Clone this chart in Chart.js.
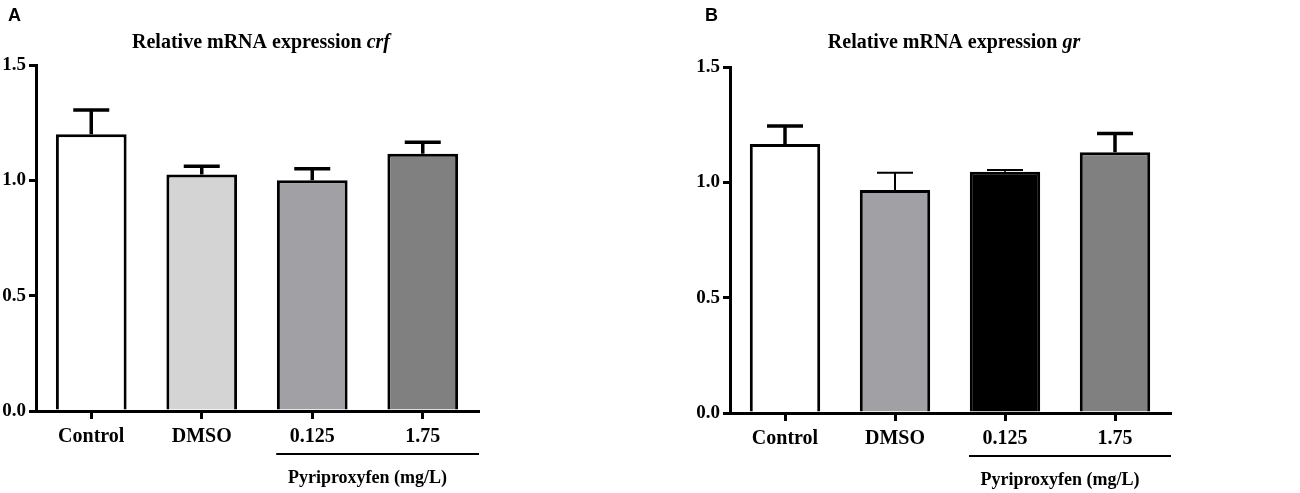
<!DOCTYPE html>
<html>
<head>
<meta charset="utf-8">
<script src="https://cdn.jsdelivr.net/npm/chart.js@4"></script>
<style>
  html, body { margin: 0; padding: 0; background: #fff; }
  #wrap { position: relative; width: 1300px; height: 493px; }
  .panel { position: absolute; top: 0; width: 650px; height: 493px; }
</style>
</head>
<body>
<div id="wrap">
  <div class="panel" style="left:0"><canvas id="cA"></canvas></div>
  <div class="panel" style="left:650px"><canvas id="cB"></canvas></div>
</div>
<script>
// ---- data ----
const categories = ['Control', 'DMSO', '0.125', '1.75'];
const crfMean = [1.20, 1.025, 1.00, 1.115];
const crfSem  = [0.105, 0.036, 0.05, 0.05];
const grMean  = [1.166, 0.967, 1.046, 1.13];
const grSem   = [0.078, 0.075, 0.007, 0.082];
const yTickValues = [0, 0.5, 1.0, 1.5];
const groupLabel = 'Pyriproxyfen (mg/L)';
const titleA = ['Relative mRNA expression ', 'crf'];
const titleB = ['Relative mRNA expression ', 'gr'];

// ---- styles ----
const crfColors = ['#ffffff', '#d4d4d4', '#a1a1a5', '#808080'];
const grColors  = ['#ffffff', '#a1a1a5', '#000000', '#808080'];
const crfErrWidth = [3.5, 3.5, 3.5, 3.5];
const grErrWidth  = [3.5, 2, 2, 3.5];

const SERIF = '"Liberation Serif", "Times New Roman", serif';

function makeDecor(cfg) {
  return {
    id: 'decor' + cfg.letter,
    afterDatasetsDraw(chart) {
      const ctx = chart.ctx;
      const y = chart.scales.y;
      const meta = chart.getDatasetMeta(0);
      meta.data.forEach((bar, i) => {
        const yt = y.getPixelForValue(cfg.mean[i]);
        const ye = y.getPixelForValue(cfg.mean[i] + cfg.sem[i]);
        ctx.save();
        ctx.strokeStyle = '#000';
        ctx.lineWidth = cfg.errWidth[i];
        ctx.beginPath();
        ctx.moveTo(bar.x, yt);
        ctx.lineTo(bar.x, ye);
        ctx.moveTo(bar.x - 18, ye);
        ctx.lineTo(bar.x + 18, ye);
        ctx.stroke();
        ctx.restore();
      });
    },
    afterDraw(chart) {
      const ctx = chart.ctx;
      const ca = chart.chartArea;
      const x = chart.scales.x;
      ctx.save();
      // panel letter
      ctx.fillStyle = '#000';
      ctx.font = 'bold 18px "Liberation Sans", Arial, sans-serif';
      ctx.textAlign = 'left';
      ctx.textBaseline = 'middle';
      ctx.fillText(cfg.letter, cfg.letterX, 16);
      // title with italic gene name
      const fBold = 'bold 20px ' + SERIF;
      const fItal = 'italic bold 20px ' + SERIF;
      ctx.font = fBold;
      const w1 = ctx.measureText(cfg.title[0]).width;
      ctx.font = fItal;
      const w2 = ctx.measureText(cfg.title[1]).width;
      const cx = (ca.left + ca.right) / 2 + 4;
      let sx = cx - (w1 + w2) / 2;
      ctx.textBaseline = 'middle';
      ctx.font = fBold;
      ctx.fillText(cfg.title[0], sx, 43);
      ctx.font = fItal;
      ctx.fillText(cfg.title[1], sx + w1, 43);
      // group line
      const x2 = x.getPixelForValue(2);
      const x3 = x.getPixelForValue(3);
      const lineY = ca.bottom + 43;
      ctx.strokeStyle = '#000';
      ctx.lineWidth = 2;
      ctx.beginPath();
      ctx.moveTo(x2 - 36, lineY);
      ctx.lineTo(ca.right + 1, lineY);
      ctx.stroke();
      // group label
      ctx.font = 'bold 18px ' + SERIF;
      ctx.textAlign = 'center';
      ctx.fillText(groupLabel, (x2 + x3) / 2, lineY + 24);
      ctx.restore();
    }
  };
}

function makeChart(id, cfg) {
  return new Chart(document.getElementById(id), {
    type: 'bar',
    data: {
      labels: categories,
      datasets: [{
        data: cfg.mean,
        backgroundColor: cfg.colors,
        borderColor: '#000',
        borderWidth: 3,
        borderSkipped: 'bottom',
        barPercentage: 0.64,
        categoryPercentage: 1.0
      }]
    },
    options: {
      responsive: true,
      maintainAspectRatio: false,
      animation: false,
      layout: { padding: { top: cfg.padTop, right: cfg.padRight, left: 0, bottom: 0 } },
      plugins: { legend: { display: false }, tooltip: { enabled: false }, title: { display: false } },
      scales: {
        x: {
          offset: true,
          grid: { display: true, drawOnChartArea: false, offset: false, tickLength: 8, lineWidth: 3, color: '#000' },
          border: { display: true, width: 3, color: '#000' },
          ticks: { color: '#000', padding: 6, font: { family: SERIF, size: 20, weight: 'bold' }, maxRotation: 0 },
          afterFit(s) { s.height = cfg.xHeight; }
        },
        y: {
          min: 0, max: 1.5,
          afterBuildTicks(s) { s.ticks = yTickValues.map(v => ({ value: v })); },
          grid: { display: true, drawOnChartArea: false, tickLength: 7, lineWidth: 3, color: '#000' },
          border: { display: true, width: 3, color: '#000' },
          ticks: { color: '#000', padding: 3, font: { family: SERIF, size: 19, weight: 'bold' },
                   callback: v => Number(v).toFixed(1) },
          afterFit(s) { s.width = cfg.yWidth; }
        }
      }
    },
    plugins: [makeDecor(cfg)]
  });
}

makeChart('cA', {
  letter: 'A', letterX: 8, title: titleA,
  mean: crfMean, sem: crfSem, colors: crfColors, errWidth: crfErrWidth,
  padTop: 65, padRight: 172, xHeight: 82, yWidth: 36
});
makeChart('cB', {
  letter: 'B', letterX: 55, title: titleB,
  mean: grMean, sem: grSem, colors: grColors, errWidth: grErrWidth,
  padTop: 67, padRight: 130, xHeight: 80, yWidth: 80
});
</script>
</body>
</html>
